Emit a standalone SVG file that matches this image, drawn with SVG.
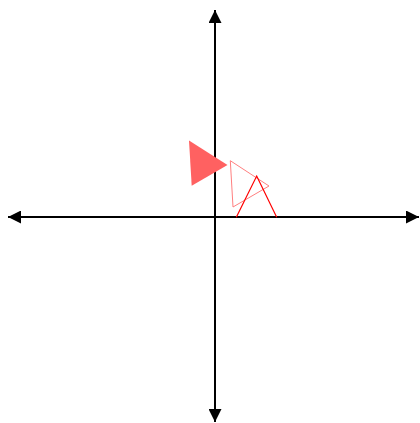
<svg xmlns="http://www.w3.org/2000/svg" width="420" height="423" viewBox="0 0 420 423">
<defs>
<marker id="ah" viewBox="0 0 10 10" refX="10" refY="5" markerWidth="7" markerHeight="6.5" markerUnits="strokeWidth" orient="auto-start-reverse">
<path d="M0,0 L10,5 L0,10 Z" fill="#000"/>
</marker>
</defs>
<style>
.axis{stroke:#000;stroke-width:2;fill:none}
</style>
<rect width="420" height="423" fill="#fff"/>
<g id="axes">
<line class="axis" x1="8" y1="217" x2="419" y2="217" marker-start="url(#ah)" marker-end="url(#ah)"/>
<line class="axis" x1="215" y1="10" x2="215" y2="422" marker-start="url(#ah)" marker-end="url(#ah)"/>
</g>
<g id="filled-triangle">
<polygon points="189,140.5 191.7,185.7 227.5,165" fill="#ff6161"/>
</g>
<g id="outline-triangle">
<polygon points="230.3,160.7 269,186 233,207" fill="none" stroke="#ff7f7f" stroke-width="1"/>
</g>
<g id="red-triangle">
<polyline points="236.3,217.3 256.7,176 276.7,217.3" fill="none" stroke="#ff0000" stroke-width="1.2"/>
</g>
</svg>
